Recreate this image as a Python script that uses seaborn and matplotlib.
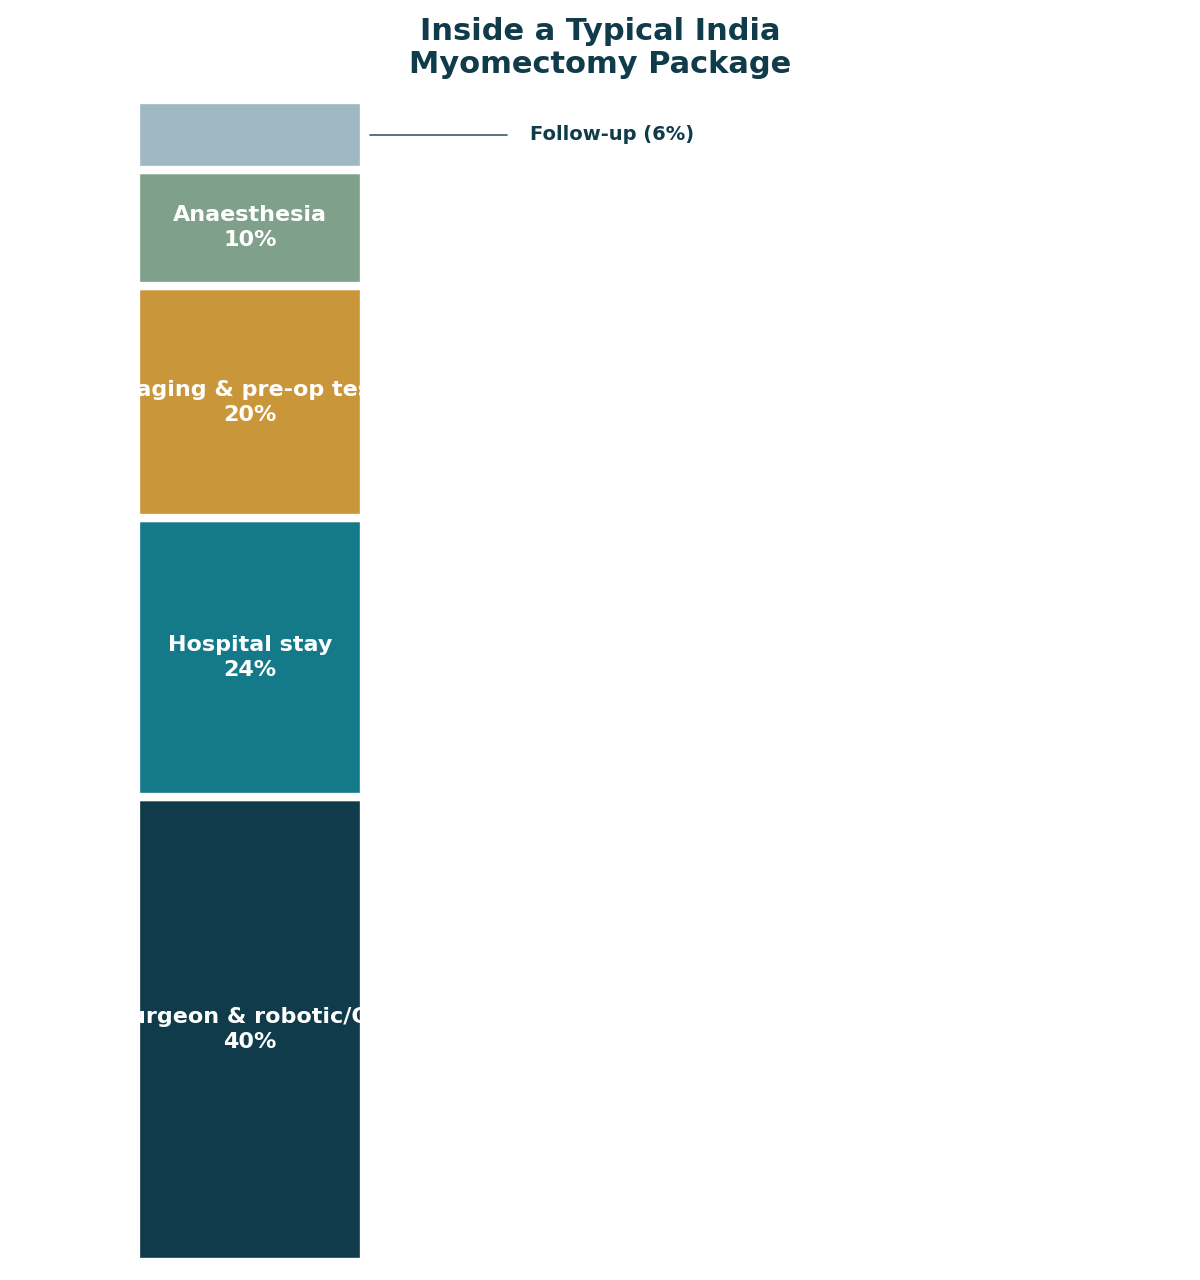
import matplotlib
matplotlib.use('Agg')
import matplotlib.pyplot as plt
import seaborn as sns
import numpy as np

categories = ["Surgeon & robotic/OT", "Hospital stay", "Imaging & pre-op tests", "Anaesthesia", "Follow-up"]
shares = [40, 24, 20, 10, 6]
colors = ["#0F3B4A", "#147A8A", "#C9963A", "#7FA08A", "#A0B8C1"]

sns.set_theme(style="white")
plt.rcParams['font.family'] = ['DejaVu Sans']

fig = plt.figure(figsize=(12, 12.8), dpi=100)
# axes spans bar region vertically; bar occupies left part horizontally
ax = fig.add_axes([136/1200, 18/1280, 928/1200, 1162/1280])
bar_w = 228/928

bottoms = np.concatenate([[0], np.cumsum(shares)[:-1]])
for cat, val, bot, col in zip(categories, shares, bottoms, colors):
    rect = ax.bar(0, val, bottom=bot, width=bar_w, align='edge', color=col,
                  edgecolor='white', linewidth=6)[0]
    mid = bot + val / 2
    if val >= 10:
        t = ax.text(bar_w / 2, mid, f"{cat}\n{val}%", ha='center', va='center',
                    color='white', fontsize=16, fontweight='bold', linespacing=1.3)
        t.set_clip_path(rect)
    else:
        ax.plot([0.252, 0.400], [mid, mid], color='#3D5A66', linewidth=1.2)
        ax.text(0.4246, mid, f"{cat} ({val}%)", ha='left', va='center',
                color='#0F3B4A', fontsize=14, fontweight='bold')

ax.set_xlim(0, 1)
ax.set_ylim(0, 100)
ax.axis('off')

fig.text(0.5, 1 - 48/1280, "Inside a Typical India\nMyomectomy Package", ha='center', va='center',
         fontsize=22, fontweight='bold', color='#0F3B4A', linespacing=1.15)

fig.savefig("out.png", dpi=100)
